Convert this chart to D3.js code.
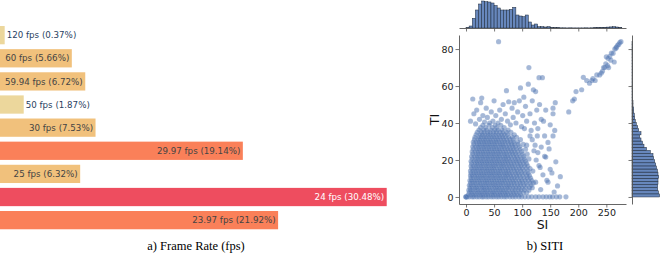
<!DOCTYPE html>
<html>
<head>
<meta charset="utf-8">
<script src="https://cdn.jsdelivr.net/npm/d3@7"></script>
<style>
  body { margin: 0; background: #fff; }
  svg { display: block; }
</style>
</head>
<body>
<svg id="chart" width="660" height="256"></svg>
<script>
// a) frame rate shares, top to bottom
const fpsLabels = ['120 fps', '60 fps', '59.94 fps', '50 fps', '30 fps', '29.97 fps', '25 fps', '24 fps', '23.97 fps']
const fpsShare = [0.37, 5.66, 6.72, 1.87, 7.53, 19.14, 6.32, 30.48, 21.92]

// b) SI / TI ticks
const siTicks = [0, 50, 100, 150, 200, 250]
const tiTicks = [0, 20, 40, 60, 80]

// marginal histograms (50 bins each), counts
const siBinWidth = 5.55
const siHist = [6, 40, 194, 360, 480, 540, 526, 520, 500, 450, 400, 360, 360, 360, 374, 414, 260, 240, 226, 260,
  120, 60, 80, 26, 26, 20, 26, 10, 6, 6, 4, 4, 2, 4, 2, 2, 2, 2, 4, 2, 4, 6, 8, 10, 14, 18, 22, 26, 20, 12]
const tiBinWidth = 1.68
const tiHist = [552, 530, 514, 514, 520, 520, 534, 520, 510, 490, 474, 454, 434, 420, 366, 290, 240, 210, 180, 154,
  180, 134, 114, 86, 66, 54, 46, 34, 34, 20, 20, 14, 14, 10, 8, 4, 4, 4, 4, 6, 8, 12, 10, 6, 4, 6, 8, 10, 14, 10]

// dense core of the scatter: [TI, [SI ...]]
const coreRows = [
  [0.1, [0, 0, 0, 2, 6, 11, 14, 19, 23, 28, 31, 36, 40, 45, 49, 54, 58, 63, 68, 72, 78, 83, 88, 94, 99, 105, 111, 117, 124, 130, 137, 143, 149, 154, 161, 167, 178]],
  [1.1, [4, 9, 13, 17, 22, 27, 30, 35, 39, 44, 48, 52, 57, 61, 66, 71, 75, 80, 86, 91, 97]],
  [2.4, [6, 10, 15, 20, 24, 28, 33, 37, 42, 47, 50, 55, 60, 64, 69, 73, 79, 84, 89, 95, 102, 108]],
  [3.7, [5, 8, 12, 17, 21, 26, 31, 34, 39, 43, 48, 53, 57, 62, 66, 71, 76, 82, 87, 93, 98, 104, 112]],
  [5.0, [7, 11, 16, 19, 24, 29, 32, 37, 41, 46, 51, 55, 59, 64, 69, 74, 78, 84, 89, 94, 100, 106, 113, 118]],
  [6.3, [6, 9, 14, 18, 23, 27, 31, 36, 40, 45, 49, 53, 58, 62, 67, 72, 76, 81, 86, 92, 97, 103, 109, 116]],
  [7.6, [8, 12, 16, 21, 25, 30, 34, 38, 43, 47, 52, 56, 61, 65, 70, 75, 80, 85, 90, 96, 101, 107, 114, 120]],
  [8.9, [7, 10, 15, 19, 24, 28, 33, 37, 41, 46, 50, 55, 59, 64, 68, 73, 78, 83, 88, 94, 99, 105, 111, 117]],
  [10.2, [9, 13, 18, 22, 26, 31, 35, 40, 44, 49, 53, 58, 62, 67, 71, 76, 81, 86, 91, 97, 103, 109, 115]],
  [11.5, [8, 11, 16, 20, 25, 29, 33, 38, 42, 47, 51, 56, 60, 65, 70, 74, 79, 84, 90, 95, 101, 108, 113]],
  [12.8, [9, 14, 18, 23, 27, 32, 36, 41, 45, 49, 54, 58, 63, 68, 72, 77, 82, 88, 93, 99, 105, 111]],
  [14.1, [8, 12, 17, 21, 26, 30, 35, 39, 43, 48, 52, 57, 61, 66, 71, 75, 80, 86, 91, 97, 103, 110]],
  [15.4, [10, 15, 19, 24, 28, 33, 37, 42, 46, 50, 55, 60, 64, 69, 74, 79, 84, 89, 95, 100, 107, 114]],
  [16.7, [9, 13, 18, 22, 27, 31, 36, 40, 45, 49, 53, 58, 63, 67, 72, 77, 82, 87, 93, 98, 104, 110]],
  [18.0, [10, 16, 20, 25, 29, 34, 38, 43, 47, 52, 56, 61, 65, 70, 75, 80, 85, 91, 96, 102, 108]],
  [19.3, [9, 14, 19, 23, 28, 32, 37, 41, 46, 50, 55, 59, 64, 69, 73, 78, 84, 89, 94, 100, 106]],
  [20.6, [11, 17, 21, 26, 30, 35, 39, 44, 48, 53, 57, 62, 67, 71, 76, 81, 87, 92, 98, 104, 112]],
  [21.9, [10, 15, 20, 24, 29, 33, 38, 42, 47, 51, 56, 60, 65, 70, 74, 79, 85, 90, 96, 103]],
  [23.2, [12, 18, 22, 27, 31, 36, 40, 45, 49, 54, 58, 63, 68, 72, 78, 83, 88, 94, 101, 109]],
  [24.5, [11, 16, 21, 25, 30, 34, 39, 43, 48, 52, 57, 61, 66, 71, 76, 81, 86, 92, 99]],
  [25.8, [13, 19, 23, 28, 32, 37, 41, 46, 50, 55, 59, 64, 69, 74, 79, 84, 90, 97, 106]],
  [27.1, [12, 17, 22, 26, 31, 35, 40, 44, 49, 53, 58, 63, 67, 72, 77, 83, 88, 95]],
  [28.4, [14, 20, 24, 29, 33, 38, 42, 47, 51, 56, 61, 65, 70, 76, 81, 86, 93, 102]],
  [29.7, [13, 18, 23, 27, 32, 36, 41, 45, 50, 54, 59, 64, 69, 74, 79, 85, 92]],
  [31.0, [15, 21, 25, 30, 34, 39, 43, 48, 53, 57, 62, 67, 72, 78, 84, 97]],
  [32.3, [16, 23, 27, 32, 36, 41, 46, 50, 55, 60, 65, 70, 76, 82, 90]],
  [33.6, [18, 25, 29, 34, 39, 43, 48, 53, 58, 63, 68, 74, 86]],
  [34.9, [20, 27, 32, 38, 43, 49, 54, 60, 66, 72, 80]],
  [36.2, [23, 31, 37, 44, 51, 57, 64, 75]],
  [37.5, [26, 35, 47, 55, 68]],
  [38.8, [30, 41, 52, 62]]
]

// scattered points outside the core: [SI, TI]
const loosePoints = [
  [8, 41], [12, 53], [14, 45], [17, 39.5], [19, 47], [24, 42], [26, 51], [28, 53.5], [30, 44], [33, 40.5],
  [36, 48], [38, 43], [42, 40], [45, 46], [48, 41], [50, 52], [53, 44], [57, 40], [58, 84], [60, 47],
  [63, 42], [66, 50], [70, 45], [72, 57.5], [74, 41], [76, 51.5], [79, 39], [82, 48], [84, 43], [86, 51],
  [89, 40], [92, 46], [95, 52], [97, 59], [99, 38], [101, 44], [103, 54], [106, 49], [108, 41], [111, 61],
  [112, 70], [114, 45], [116, 36], [118, 52], [120, 58], [122, 40], [124, 57], [126, 47], [128, 37], [130, 64.5],
  [131, 50], [134, 42], [136, 64.5], [138, 41], [140, 33], [142, 47], [146, 29.5], [150, 39], [155, 45], [155, 48],
  [158, 36], [159, 51], [118, 31], [121, 25], [123, 28], [125, 20], [127, 33], [128, 24], [130, 17], [132, 16],
  [134, 27], [137, 12], [140, 22], [142, 21.6], [144, 9], [146, 8], [148, 26], [150, 15], [153, 13], [155, 33],
  [157, 2.7], [160, 19], [163, 6], [168, 11], [124, 8], [119, 14], [133, 4], [114, 33], [108, 28], [104, 37],
  // diagonal group of high SI / TI clips
  [183, 46], [190, 52], [193, 53], [196, 57], [206, 58], [209, 64.7], [215, 63], [220, 61.5], [224, 63], [226, 64],
  [230, 63], [233, 66], [238, 66], [241, 67], [243, 68], [245, 70], [247, 70], [249, 72], [250, 75.8], [252, 71],
  [253, 75], [254, 70], [256, 76], [258, 74], [259, 77.8], [262, 77.7], [264, 73], [265, 80], [267, 80.5], [268, 81],
  [270, 82], [272, 82.5], [274, 83.5], [276, 84]
]

const svg = d3.select('#chart')

// ---------- a) Frame Rate ----------
const barX = d3.scaleLinear().domain([0, 32]).range([0, 406])
const barY = d3.scaleBand().domain(fpsLabels).range([23.6, 231.7]).paddingInner(0.21).paddingOuter(0.105)
const barColor = d3.scaleThreshold().domain([2, 10, 25]).range(['#ecd79c', '#f1c17c', '#fa8059', '#ee4d5f'])

const bar = svg.append('g')
  .selectAll('g.bar')
  .data(fpsLabels)
  .join('g')
  .attr('class', 'bar')

bar.append('rect')
  .attr('x', barX(0))
  .attr('y', d => barY(d))
  .attr('width', (d, i) => barX(fpsShare[i]) - barX(0))
  .attr('height', barY.bandwidth())
  .attr('fill', (d, i) => barColor(fpsShare[i]))

bar.append('text')
  .attr('y', d => barY(d) + barY.bandwidth() / 2)
  .attr('dy', '0.36em')
  .style('font-family', '"DejaVu Sans", Verdana, sans-serif')
  .style('font-size', '8.7px')
  .text((d, i) => `${d} (${fpsShare[i].toFixed(2)}%)`)
  .each(function (d, i) {
    const w = this.getComputedTextLength()
    const end = barX(fpsShare[i])
    const t = d3.select(this)
    if (w + 6 < end) {
      // fits inside the bar
      t.attr('x', end - 2.5).attr('text-anchor', 'end')
        .attr('fill', fpsShare[i] > 25 ? '#ffffff' : '#444444')
    } else {
      t.attr('x', end + 2).attr('text-anchor', 'start').attr('fill', '#2a3f5f')
    }
  })

svg.append('text')
  .attr('x', 196)
  .attr('y', 250)
  .attr('text-anchor', 'middle')
  .style('font-family', '"Liberation Serif", "Times New Roman", serif')
  .style('font-size', '12.5px')
  .text('a) Frame Rate (fps)')

// ---------- b) SITI ----------
const x = d3.scaleLinear().domain([-12.5, 285]).range([459, 626])
const y = d3.scaleLinear().domain([-3.8, 87.6]).range([204, 35])

const tickFont = g => g.selectAll('text')
  .style('font-family', '"DejaVu Sans", sans-serif')
  .style('font-size', '9.5px')
  .attr('fill', '#222')
const axisStyle = g => {
  g.select('.domain').attr('stroke', '#555').attr('stroke-width', 0.9)
  g.selectAll('.tick line').attr('stroke', '#555').attr('stroke-width', 0.8)
}

// top marginal: SI histogram
const siCount = d3.scaleLinear().domain([0, 540]).range([28, 1])
svg.append('g')
  .selectAll('rect')
  .data(siHist)
  .join('rect')
  .attr('x', (d, i) => x(i * siBinWidth))
  .attr('y', d => siCount(d))
  .attr('width', x(siBinWidth) - x(0))
  .attr('height', d => siCount(0) - siCount(d))
  .attr('fill', '#4c72b0')
  .attr('fill-opacity', 0.85)
  .attr('stroke', '#1f2a3a')
  .attr('stroke-width', 0.5)

svg.append('g')
  .attr('transform', 'translate(0,28)')
  .call(d3.axisBottom(x).tickValues(siTicks).tickSize(3.5).tickSizeOuter(0).tickFormat(''))
  .call(axisStyle)

// right marginal: TI histogram
const tiCount = d3.scaleLinear().domain([0, 552]).range([632, 659.6])
svg.append('g')
  .selectAll('rect')
  .data(tiHist)
  .join('rect')
  .attr('x', tiCount(0))
  .attr('y', (d, i) => y((i + 1) * tiBinWidth))
  .attr('width', d => tiCount(d) - tiCount(0))
  .attr('height', y(0) - y(tiBinWidth))
  .attr('fill', '#4c72b0')
  .attr('fill-opacity', 0.85)
  .attr('stroke', '#1f2a3a')
  .attr('stroke-width', 0.5)

svg.append('g')
  .attr('transform', 'translate(632,0)')
  .call(d3.axisLeft(y).tickValues(tiTicks).tickSize(3.5).tickSizeOuter(0).tickFormat(''))
  .call(axisStyle)

// scatter points
const points = []
coreRows.forEach(([ti, sis]) => sis.forEach(si => points.push([si, ti])))
loosePoints.forEach(p => points.push(p))

svg.append('g')
  .selectAll('circle')
  .data(points)
  .join('circle')
  .attr('cx', d => x(d[0]))
  .attr('cy', d => y(d[1]))
  .attr('r', 2.6)
  .attr('fill', '#4c72b0')
  .attr('fill-opacity', 0.5)
  .attr('stroke', '#ffffff')
  .attr('stroke-width', 0.3)
  .attr('stroke-opacity', 0.3)

// scatter axes
svg.append('g')
  .attr('transform', 'translate(0,204)')
  .call(d3.axisBottom(x).tickValues(siTicks).tickSize(3.5).tickSizeOuter(0).tickPadding(2))
  .call(axisStyle)
  .call(tickFont)

svg.append('g')
  .attr('transform', 'translate(459,0)')
  .call(d3.axisLeft(y).tickValues(tiTicks).tickSize(3.5).tickSizeOuter(0).tickPadding(2))
  .call(axisStyle)
  .call(tickFont)

svg.append('text')
  .attr('x', 542.5)
  .attr('y', 229)
  .attr('text-anchor', 'middle')
  .style('font-family', '"DejaVu Sans", sans-serif')
  .style('font-size', '12.5px')
  .attr('fill', '#111')
  .text('SI')

svg.append('text')
  .attr('transform', 'translate(439,119.5) rotate(-90)')
  .attr('text-anchor', 'middle')
  .style('font-family', '"DejaVu Sans", sans-serif')
  .style('font-size', '12.5px')
  .attr('fill', '#111')
  .text('TI')

svg.append('text')
  .attr('x', 545)
  .attr('y', 250)
  .attr('text-anchor', 'middle')
  .style('font-family', '"Liberation Serif", "Times New Roman", serif')
  .style('font-size', '12.5px')
  .text('b) SITI')
</script>
</body>
</html>
